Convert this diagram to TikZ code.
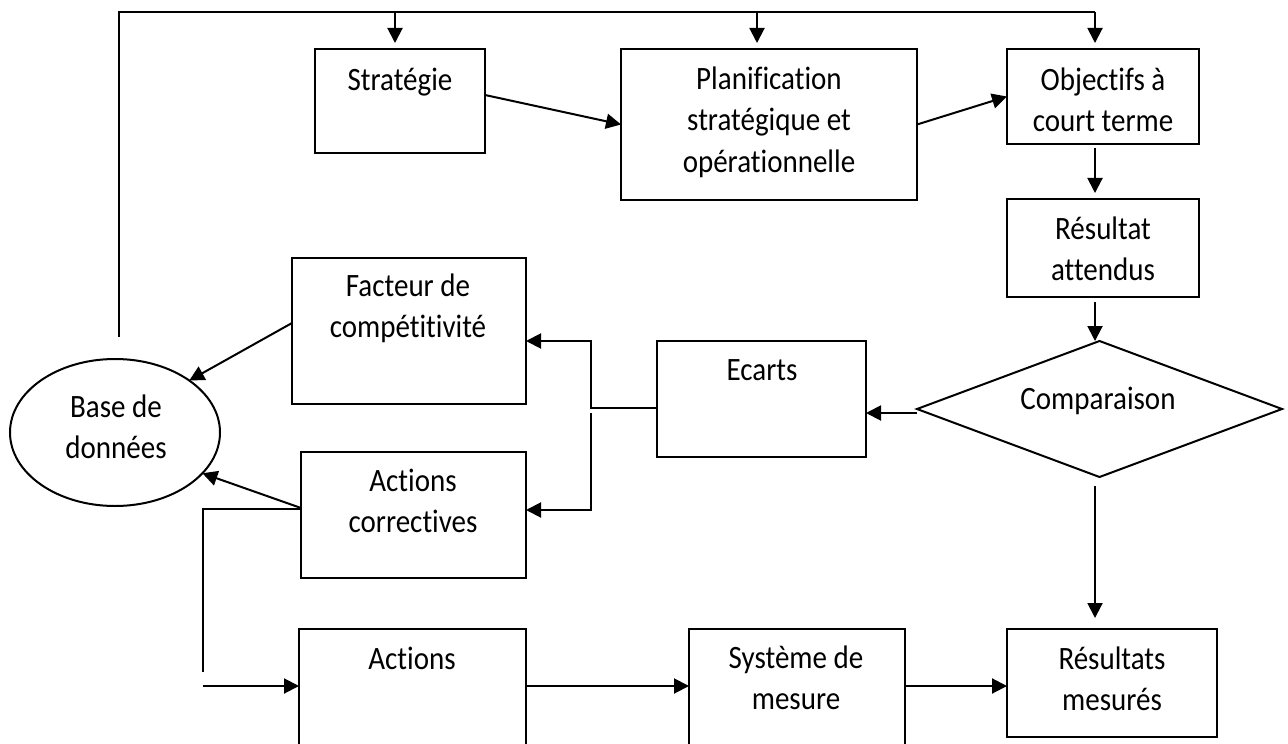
\documentclass[tikz,border=0pt]{standalone}
\usepackage{fontspec}
\setmainfont{Carlito}[Ligatures=NoCommon]
\usetikzlibrary{arrows.meta,shapes.geometric}
\begin{document}
\begin{tikzpicture}[x=0.5pt,y=-0.5pt,
  line width=1pt,
  box/.style={draw, rectangle, inner sep=0pt, outer sep=0pt},
  lbl/.style={anchor=north, inner sep=0pt, align=center, xscale=0.89,
    font=\fontsize{16.3pt}{20.75pt}\selectfont},
  arr/.style={-{Triangle[length=7.5pt,width=7.5pt]}},
]
\useasboundingbox (0,0) rectangle (1288,743);
\clip (0,0) rectangle (1288,743);
\fill[white] (0,0) rectangle (1288,743);

% boxes
\node[box, minimum width=85pt,  minimum height=52pt]   (strat)   at (400,101)   {};
\node[box, minimum width=148pt, minimum height=75.5pt] (plan)    at (769,124.5) {};
\node[box, minimum width=96pt,  minimum height=47.5pt] (obj)     at (1103,96.5) {};
\node[box, minimum width=96pt,  minimum height=49pt]   (resatt)  at (1103,248)  {};
\node[draw, diamond, inner sep=0pt, outer sep=0pt,
      minimum width=182.5pt, minimum height=68pt]      (comp)    at (1099.5,409) {};
\node[box, minimum width=104.5pt, minimum height=58pt] (ecarts)  at (761.5,399) {};
\node[box, minimum width=117pt, minimum height=73pt]   (fact)    at (409,331)   {};
\node[box, minimum width=112.5pt, minimum height=63pt] (acor)    at (413.5,515) {};
\node[draw, ellipse, inner sep=0pt, outer sep=0pt,
      minimum width=105pt, minimum height=73.5pt]      (base)    at (115,432.5) {};
\node[box, minimum width=113.5pt, minimum height=65.5pt] (actions) at (412.5,694.5) {};
\node[box, minimum width=108pt, minimum height=65.5pt] (sys)     at (797,694.5) {};
\node[box, minimum width=105pt, minimum height=54pt]   (res)     at (1112,683)  {};

% texts
\node[lbl] (stratT)   at (400,60)   {\strut Stratégie};
\node[lbl] (planT)    at (769,59)   {\strut Planification\\stratégique et\\opérationnelle};
\node[lbl] (objT)     at (1103,60)  {\strut Objectifs à\\court terme};
\node[lbl] (resattT)  at (1103,209) {\strut Résultat\\attendus};
\node[lbl] (compT)    at (1098,379) {\strut Comparaison};
\node[lbl] (ecartsT)  at (762,350)  {\strut Ecarts};
\node[lbl] (factT)    at (408,266)  {\strut Facteur de\\compétitivité};
\node[lbl] (acorT)    at (413,461)  {\strut Actions\\correctives};
\node[lbl] (baseT)    at (116,387)  {\strut Base de\\données};
\node[lbl] (actionsT) at (412,639)  {\strut Actions};
\node[lbl] (sysT)     at (796,638)  {\strut Système de\\mesure};
\node[lbl] (resT)     at (1112,639) {\strut Résultats\\mesurés};

% feedback loop along the top
\coordinate (fbA) at (119,337);
\coordinate (fbB) at (119,12);
\coordinate (sIn) at ([xshift=-2.5pt]strat.north);
\coordinate (pIn) at ([xshift=-6pt]plan.north);
\coordinate (oIn) at ([xshift=-4pt]obj.north);
\draw (fbA) -- (fbB) -- (oIn |- fbB);
\draw[arr, shorten >=3pt] (sIn |- fbB) -- (sIn);
\draw[arr, shorten >=3pt] (pIn |- fbB) -- (pIn);
\draw[arr, shorten >=3pt] (oIn |- fbB) -- (oIn);

% planning chain
\draw[arr] ([yshift=3pt]strat.east) -- (plan.west);
\draw[arr] (plan.east) -- (obj.west);
\coordinate (oOut) at ([xshift=-4pt]obj.south);
\draw[arr, shorten <=2pt, shorten >=3pt] (oOut) -- (oOut |- resatt.north);
\coordinate (rOut) at ([xshift=-4pt]resatt.south);
\draw[arr, shorten <=2.5pt] (rOut) -- (rOut |- comp.north);
\coordinate (cOut) at ([xshift=-2.25pt]comp.south);
\draw[arr, shorten <=4.5pt, shorten >=5.5pt] (cOut) -- (cOut |- res.north);

% deviations
\coordinate (cL) at ([yshift=-2pt]comp.west);
\draw[arr] (cL) -- (cL -| ecarts.east);
\coordinate (eOut) at ([yshift=-4.5pt]ecarts.west);
\coordinate (jTop) at (591,341);
\draw[arr] (eOut) -| (jTop) -- (jTop -| fact.east);
\coordinate (jBot) at (591,413);
\coordinate (jEnd) at (591,510);
\draw[arr] (jBot) -- (jEnd) -- (jEnd -| acor.east);

% towards the data base
\draw[arr] ([yshift=4pt]fact.west) -- (base.north east);
\draw[arr] ([yshift=3.5pt]acor.west) -- (base.-25);

% corrective actions back to actions
\coordinate (aBend) at (203,672);
\draw ([yshift=3pt]acor.west) -| (aBend);
\coordinate (aIn) at (203,686);
\draw[arr] (aIn) -- (aIn -| actions.west);

% measurement chain
\draw[arr] ([yshift=4.25pt]actions.east) -- ([yshift=4.25pt]sys.west);
\coordinate (sOut) at ([yshift=4.25pt]sys.east);
\draw[arr] (sOut) -- (sOut -| res.west);
\end{tikzpicture}
\end{document}
